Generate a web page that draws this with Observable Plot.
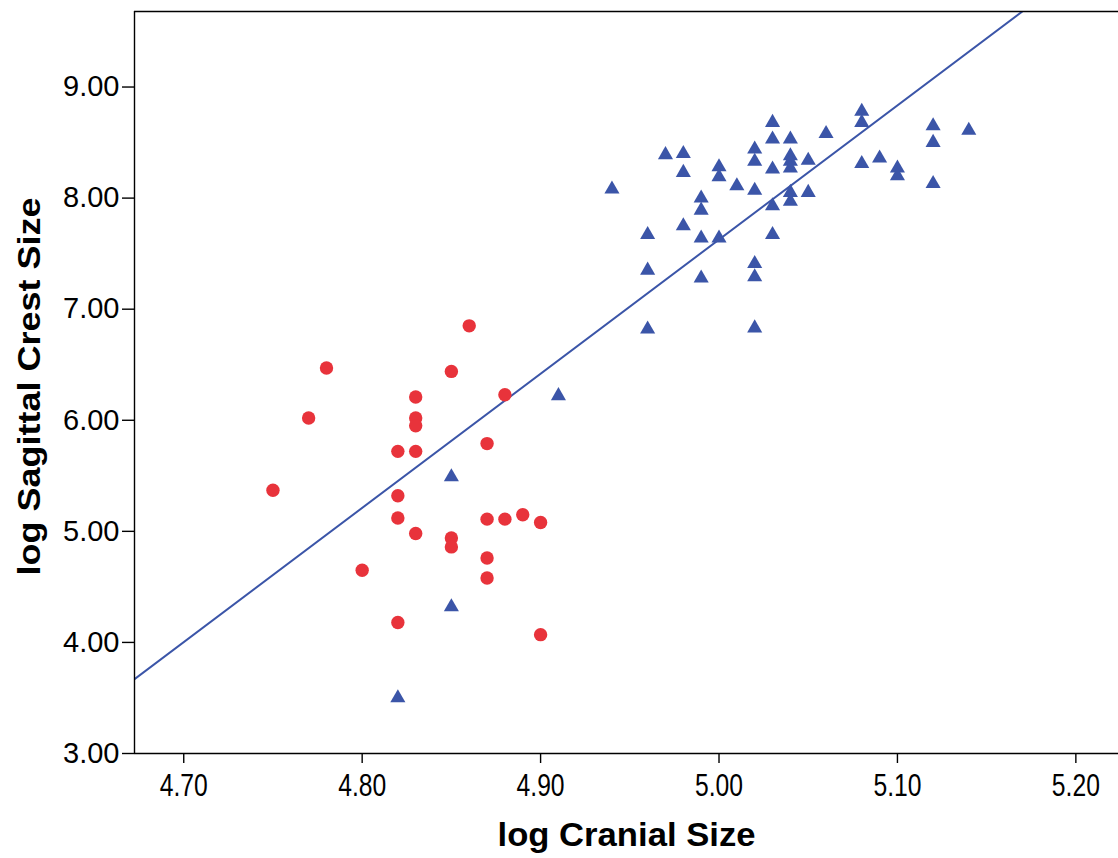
<!DOCTYPE html>
<html>
<head>
<meta charset="utf-8">
<script src="https://cdn.jsdelivr.net/npm/d3@7"></script>
<script src="https://cdn.jsdelivr.net/npm/@observablehq/plot@0.6"></script>
<style>
  html, body { margin: 0; padding: 0; background: #ffffff; }
  #chart svg { display: block; }
</style>
</head>
<body>
<div id="chart"></div>
<script>
// Group 1 (red circles)
const redX = [4.86, 4.78, 4.85, 4.83, 4.88, 4.77, 4.83, 4.83, 4.82, 4.83, 4.87, 4.75, 4.82, 4.82, 4.83, 4.85, 4.85, 4.87, 4.88, 4.89, 4.90, 4.87, 4.87, 4.80, 4.82, 4.90];
const redY = [6.85, 6.47, 6.44, 6.21, 6.23, 6.02, 6.02, 5.95, 5.72, 5.72, 5.79, 5.37, 5.32, 5.12, 4.98, 4.94, 4.86, 5.11, 5.11, 5.15, 5.08, 4.76, 4.58, 4.65, 4.18, 4.07];

// Group 2 (blue triangles)
const blueX = [4.91, 4.85, 4.85, 4.82,
  4.94, 4.97, 4.98, 4.98, 5.00, 5.00, 5.01, 5.02, 5.02, 5.02, 5.03, 5.03, 5.03, 5.03, 5.03,
  5.04, 5.04, 5.04, 5.04, 5.04, 5.04, 5.05, 5.05, 5.06, 5.08, 5.08, 5.08,
  4.99, 4.99, 4.98, 4.96, 4.99, 5.00, 4.96, 4.99, 5.02, 5.02, 4.96, 5.02,
  5.09, 5.10, 5.10, 5.12, 5.12, 5.12, 5.14];
const blueY = [6.22, 5.49, 4.32, 3.50,
  8.08, 8.39, 8.40, 8.23, 8.28, 8.19, 8.11, 8.44, 8.33, 8.07, 8.68, 8.53, 8.26, 7.93, 7.67,
  8.53, 8.38, 8.33, 8.27, 8.05, 7.97, 8.34, 8.05, 8.58, 8.78, 8.68, 8.31,
  8.00, 7.89, 7.75, 7.67, 7.64, 7.64, 7.35, 7.28, 7.41, 7.29, 6.82, 6.83,
  8.36, 8.27, 8.20, 8.65, 8.50, 8.13, 8.61];

// Fit line (two ends)
const fitX = [4.6724, 5.1700];
const fitY = [3.67, 9.68];

// Axes
const xDomain = [4.6724, 5.2239];
const yDomain = [3.00, 9.68];
const xTicks = [4.70, 4.80, 4.90, 5.00, 5.10, 5.20];
const yTicks = [3, 4, 5, 6, 7, 8, 9];
const xTitle = "log Cranial Size";
const yTitle = "log Sagittal Crest Size";

const red = "#e8333b";
const blue = "#3b55a8";
const fmt = d3.format(".2f");

const chart = Plot.plot({
  width: 1118,
  height: 858,
  marginLeft: 134,
  marginRight: 0,
  marginTop: 11,
  marginBottom: 105,
  style: { fontFamily: "'Liberation Sans', Arial, sans-serif", background: "#ffffff", color: "#000000" },
  x: { domain: xDomain },
  y: { domain: yDomain },
  marks: [
    Plot.line(fitX.map((x, i) => ({x, y: fitY[i]})), { x: "x", y: "y", stroke: blue, strokeWidth: 2, clip: true }),
    Plot.dot(redX.map((x, i) => ({x, y: redY[i]})), { x: "x", y: "y", r: 6.7, fill: red, symbol: "circle" }),
    Plot.dot(blueX.map((x, i) => ({x, y: blueY[i]})), { x: "x", y: "y", r: 5.6, fill: blue, symbol: "triangle" }),
    Plot.ruleX([xDomain[0]], { stroke: "#000", strokeWidth: 1.4 }),
    Plot.ruleY([yDomain[0], yDomain[1]], { stroke: "#000", strokeWidth: 1.4 }),
    Plot.axisX({ ticks: xTicks, tickFormat: fmt, tickSize: 10, tickPadding: 10, fontSize: 31, label: null, strokeWidth: 1.4, className: "xax" }),
    Plot.axisY({ ticks: yTicks, tickFormat: fmt, tickSize: 12, tickPadding: 3, fontSize: 29, label: null, strokeWidth: 1.4 }),
    Plot.text([xTitle], { frameAnchor: "bottom", dy: 82, text: d => d, fontSize: 34, fontWeight: "bold", fill: "#000", textAnchor: "middle", lineAnchor: "middle", className: "xtitle" }),
    Plot.text([yTitle], { frameAnchor: "left", dx: -104, dy: 4, rotate: -90, text: d => d, fontSize: 31, fontWeight: "bold", fill: "#000", textAnchor: "middle", lineAnchor: "middle", className: "ytitle" })
  ]
});
document.getElementById("chart").appendChild(chart);
d3.select(chart).selectAll(".ytitle text").attr("textLength", 378).attr("lengthAdjust", "spacingAndGlyphs");
d3.select(chart).selectAll(".xtitle text").attr("textLength", 258).attr("lengthAdjust", "spacingAndGlyphs");
d3.select(chart).selectAll("g[aria-label='x-axis tick label'] text").attr("textLength", 48).attr("lengthAdjust", "spacingAndGlyphs");
</script>
</body>
</html>
